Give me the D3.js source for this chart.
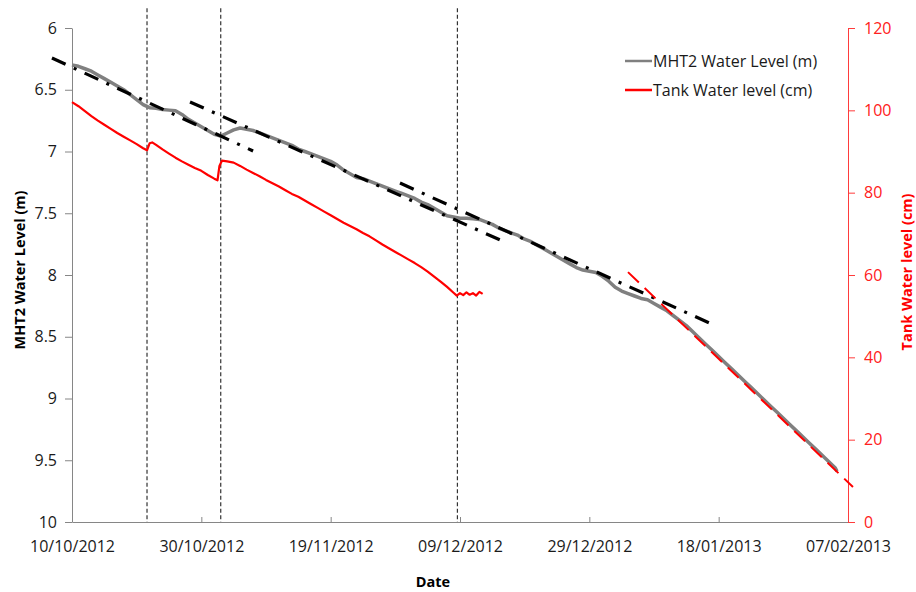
<!DOCTYPE html>
<html>
<head>
<meta charset="utf-8">
<script src="https://cdn.jsdelivr.net/npm/d3@7"></script>
<style>
  body { margin: 0; background: #fff; }
  text { font-family: "Open Sans", sans-serif; }
</style>
</head>
<body>
<div id="chart"></div>
<script>
// day offsets from 10/10/2012
const startDate = "10/10/2012";
const xTickLabels = ["10/10/2012", "30/10/2012", "19/11/2012", "09/12/2012", "29/12/2012", "18/01/2013", "07/02/2013"];
const leftTicks = [6, 6.5, 7, 7.5, 8, 8.5, 9, 9.5, 10];
const rightTicks = [0, 20, 40, 60, 80, 100, 120];

// MHT2 water level (m) [day, value]
const mht2 = [
  [0, 6.30], [1, 6.31], [2, 6.33], [3, 6.35], [4, 6.38], [5, 6.41], [6, 6.44], [7, 6.47], [8, 6.50],
  [9, 6.54], [10, 6.58], [11, 6.62], [12, 6.645], [13, 6.65], [14, 6.66], [15, 6.665], [16, 6.67],
  [17, 6.70], [18, 6.74], [19, 6.77], [20, 6.80], [21, 6.83], [22, 6.86], [23, 6.875], [24, 6.85],
  [25, 6.825], [26, 6.81], [27, 6.82], [28, 6.83], [29, 6.85], [30, 6.87], [31, 6.89], [32, 6.91],
  [33, 6.93], [34, 6.95], [35, 6.98], [36, 7.00], [37, 7.02], [38, 7.04], [39, 7.06], [40, 7.08],
  [41, 7.11], [42, 7.15], [43, 7.18], [44, 7.21], [45, 7.22], [46, 7.24], [47, 7.26], [48, 7.28],
  [49, 7.30], [50, 7.32], [51, 7.34], [52, 7.36], [53, 7.38], [54, 7.41], [55, 7.43], [56, 7.46],
  [57, 7.49], [58, 7.52], [59, 7.53], [60, 7.54], [61, 7.54], [62, 7.545], [63, 7.55], [64, 7.57],
  [65, 7.59], [66, 7.62], [67, 7.64], [68, 7.66], [69, 7.68], [70, 7.71], [71, 7.73], [72, 7.76],
  [73, 7.79], [74, 7.82], [75, 7.85], [76, 7.88], [77, 7.91], [78, 7.94], [79, 7.96], [80, 7.97],
  [81, 7.98], [82, 8.01], [83, 8.05], [84, 8.10], [85, 8.13], [86, 8.15], [87, 8.17], [88, 8.19],
  [89, 8.20], [90, 8.23], [91, 8.26], [92, 8.29], [93, 8.33], [94, 8.37], [95, 8.41], [96, 8.46],
  [97, 8.51], [98, 8.56], [99, 8.61], [100, 8.66], [101, 8.71], [102, 8.76], [103, 8.81], [104, 8.86],
  [105, 8.91], [106, 8.96], [107, 9.01], [108, 9.06], [109, 9.11], [110, 9.16], [111, 9.21],
  [112, 9.26], [113, 9.31], [114, 9.36], [115, 9.41], [116, 9.46], [117, 9.51], [118, 9.56], [118.3, 9.59]
];

// Tank water level (cm) [day, value]
const tank = [
  [0, 102], [1, 101], [2, 99.8], [3, 98.6], [4, 97.5], [5, 96.5], [6, 95.5], [7, 94.5], [8, 93.6],
  [9, 92.7], [10, 91.8], [11, 90.8], [11.6, 90.3], [12, 92.0], [12.4, 92.2], [13, 91.6], [14, 90.5],
  [15, 89.5], [16, 88.5], [17, 87.6], [18, 86.8], [19, 86.0], [20, 85.3], [21, 84.3], [22, 83.4],
  [22.5, 83.0], [22.8, 86.5], [23.2, 87.8], [24, 87.6], [25, 87.3], [26, 86.5], [27, 85.6], [28, 84.8],
  [29, 84.0], [30, 83.1], [31, 82.3], [32, 81.5], [33, 80.6], [34, 79.7], [35, 79.0], [36, 78.1],
  [37, 77.2], [38, 76.3], [39, 75.4], [40, 74.5], [41, 73.6], [42, 72.7], [43, 71.9], [44, 71.1],
  [45, 70.2], [46, 69.4], [47, 68.4], [48, 67.4], [49, 66.5], [50, 65.6], [51, 64.7], [52, 63.8],
  [53, 62.9], [54, 61.9], [55, 60.8], [56, 59.6], [57, 58.4], [58, 57.1], [59, 55.7], [59.5, 55.0],
  [60, 55.6], [60.5, 55.1], [61, 55.8], [61.5, 55.2], [62, 55.6], [62.5, 55.0], [63, 55.9], [63.5, 55.4]
];

// trend lines on the left axis (dash-dot)
const trend1 = [[-3.1, 6.243], [28.0, 6.996]];
const trend2 = [[18.25, 6.599], [67.27, 7.741]];
const trend3 = [[50.72, 7.255], [99.59, 8.413]];
// fitted tank line (red dashed, right axis)
const tankFit = [[85.98, 60.7], [120.77, 8.5]];
// event markers (day)
const events = [11.6, 23.0, 59.6];

const margin = { top: 28, right: 68, bottom: 70, left: 72 };
const W = 916, H = 592;
const width = W - margin.left - margin.right;
const height = H - margin.top - margin.bottom;

const parse = d3.utcParse("%d/%m/%Y");
const fmt = d3.utcFormat("%d/%m/%Y");
const t0 = parse(startDate);
const day = d => new Date(t0.getTime() + d * 86400000);

const svg = d3.select("#chart")
  .append("svg")
  .attr("width", W)
  .attr("height", H)
  .append("g")
  .attr("transform", `translate(${margin.left},${margin.top})`);

const x = d3.scaleUtc()
  .domain([parse(xTickLabels[0]), parse(xTickLabels[xTickLabels.length - 1])])
  .range([0, width]);

const yL = d3.scaleLinear().domain([6, 10]).range([0, height]);
const yR = d3.scaleLinear().domain([0, 120]).range([height, 0]);

// axes
const xAxis = svg.append("g")
  .attr("transform", `translate(0,${height})`)
  .call(d3.axisBottom(x).tickValues(xTickLabels.map(parse)).tickFormat(fmt)
    .tickSizeInner(-5).tickSizeOuter(0).tickPadding(19));
xAxis.selectAll("line, path").attr("stroke", "#868686");
xAxis.selectAll("text").attr("font-size", 16).attr("fill", "#1a1a1a");

const leftAxis = svg.append("g")
  .call(d3.axisLeft(yL).tickValues(leftTicks).tickFormat(d3.format("")).tickSizeInner(7).tickSizeOuter(0).tickPadding(8));
leftAxis.selectAll("line, path").attr("stroke", "#868686");
leftAxis.selectAll("text").attr("font-size", 16).attr("fill", "#1a1a1a");

const rightAxis = svg.append("g")
  .attr("transform", `translate(${width},0)`)
  .call(d3.axisRight(yR).tickValues(rightTicks).tickSizeInner(7).tickSizeOuter(0).tickPadding(9));
rightAxis.selectAll("line, path").attr("stroke", "#ff3b3b");
rightAxis.selectAll("text").attr("font-size", 16).attr("fill", "#ff2020");

// vertical dashed event lines
svg.selectAll(".event")
  .data(events)
  .enter().append("line")
  .attr("x1", d => x(day(d)))
  .attr("x2", d => x(day(d)))
  .attr("y1", yL(5.84))
  .attr("y2", yL(10))
  .attr("stroke", "#333")
  .attr("stroke-width", 1.2)
  .attr("stroke-dasharray", "4,2.5");

const lineL = d3.line().x(d => x(day(d[0]))).y(d => yL(d[1]));
const lineR = d3.line().x(d => x(day(d[0]))).y(d => yR(d[1]));

svg.append("path")
  .datum(mht2)
  .attr("d", lineL)
  .attr("fill", "none")
  .attr("stroke", "#808080")
  .attr("stroke-width", 3.5)
  .attr("stroke-linejoin", "round");

svg.append("path")
  .datum(tank)
  .attr("d", lineR)
  .attr("fill", "none")
  .attr("stroke", "#ff0000")
  .attr("stroke-width", 2.2)
  .attr("stroke-linejoin", "round");

// trend lines
[trend1, trend2, trend3].forEach(t => {
  svg.append("path")
    .datum(t)
    .attr("d", lineL)
    .attr("fill", "none")
    .attr("stroke", "#000")
    .attr("stroke-width", 3.2)
    .attr("stroke-dasharray", "15,9,3,9");
});

svg.append("path")
  .datum(tankFit)
  .attr("d", lineR)
  .attr("fill", "none")
  .attr("stroke", "#ff0000")
  .attr("stroke-width", 2)
  .attr("stroke-dasharray", "15,8");

// axis titles
svg.append("text")
  .attr("transform", `translate(${25 - margin.left},${height / 2 - 5}) rotate(-90)`)
  .attr("text-anchor", "middle")
  .attr("font-size", 14.5)
  .attr("font-weight", "bold")
  .attr("fill", "#000")
  .text("MHT2 Water Level (m)");

svg.append("text")
  .attr("transform", `translate(${width + 64},${height / 2 - 3}) rotate(-90)`)
  .attr("text-anchor", "middle")
  .attr("font-size", 14.5)
  .attr("font-weight", "bold")
  .attr("fill", "#ff0000")
  .text("Tank Water level (cm)");

svg.append("text")
  .attr("x", 433 - margin.left)
  .attr("y", 587 - margin.top)
  .attr("text-anchor", "middle")
  .attr("font-size", 14.5)
  .attr("font-weight", "bold")
  .attr("fill", "#000")
  .text("Date");

// legend
const legendItems = [
  { name: "MHT2 Water Level (m)", color: "#808080" },
  { name: "Tank Water level (cm)", color: "#ff0000" }
];
const legend = svg.append("g")
  .attr("transform", `translate(${625 - margin.left},${61 - margin.top})`);
legendItems.forEach((d, i) => {
  legend.append("line")
    .attr("x1", 0).attr("x2", 27)
    .attr("y1", i * 29).attr("y2", i * 29)
    .attr("stroke", d.color)
    .attr("stroke-width", 2.5);
  legend.append("text")
    .attr("x", 28)
    .attr("y", i * 29)
    .attr("dy", "0.35em")
    .attr("font-size", 16)
    .attr("fill", "#1a1a1a")
    .text(d.name);
});
</script>
</body>
</html>
